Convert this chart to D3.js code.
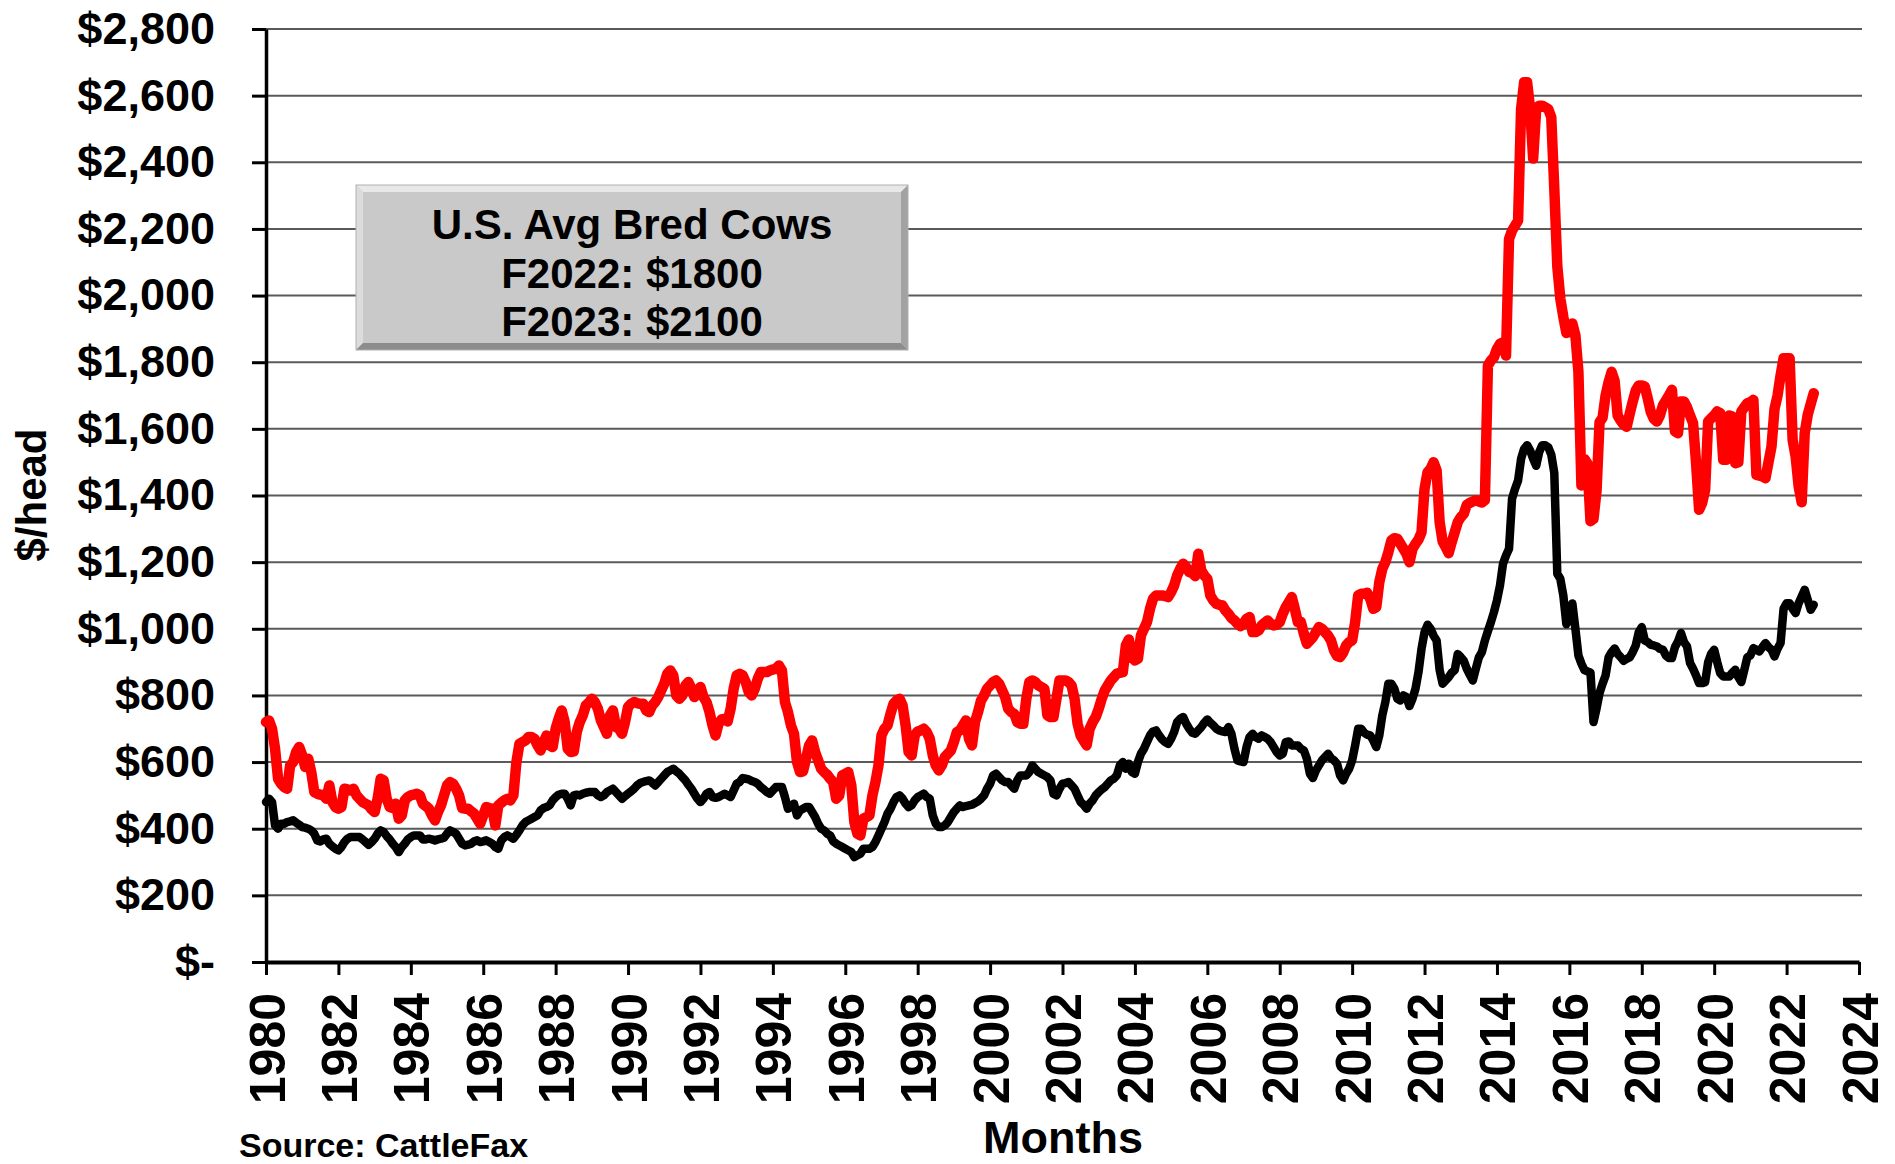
<!DOCTYPE html>
<html>
<head>
<meta charset="utf-8">
<script src="https://cdn.jsdelivr.net/npm/d3@7"></script>
<style>
  html, body { margin: 0; padding: 0; background: #fff; }
  svg { display: block; }
  text { font-family: "Liberation Sans", Arial, Helvetica, sans-serif; font-weight: bold; fill: #000; }
</style>
</head>
<body>
<svg id="chart" width="1895" height="1164"></svg>
<script>
// Monthly series, January 1980 onward ($/head)
const startYear = 1980;

const redSeries = [
  720, 725, 700, 640, 550, 535, 525, 520, 590, 600, 630, 645,      // 1980
  620, 585, 610, 570, 510, 505, 502, 500, 490, 530, 480, 465,      // 1981
  460, 465, 520, 518, 515, 520, 500, 490, 480, 475, 470, 458,      // 1982
  450, 490, 550, 545, 490, 465, 462, 475, 430, 440, 485, 495,      // 1983
  500, 502, 505, 500, 475, 468, 460, 440, 425, 450, 470, 500,      // 1984
  530, 540, 535, 520, 500, 462, 460, 460, 452, 445, 430, 415,      // 1985
  440, 465, 462, 460, 410, 470, 478, 485, 490, 485, 500, 600,      // 1986
  655, 660, 665, 675, 675, 670, 650, 635, 660, 680, 650, 645,      // 1987
  700, 730, 755, 720, 640, 630, 632, 690, 720, 740, 770, 778,      // 1988
  790, 780, 760, 725, 705, 685, 740, 755, 705, 700, 685, 720,      // 1989
  765, 775, 780, 777, 775, 775, 755, 750, 770, 780, 795, 815,      // 1990
  835, 865, 875, 860, 800, 790, 800, 830, 840, 820, 795, 815,      // 1991
  825, 795, 780, 750, 710, 680, 715, 728, 730, 722, 760, 820,      // 1992
  860, 865, 860, 840, 810, 800, 820, 850, 870, 870, 870, 875,      // 1993
  878, 880, 890, 875, 780, 750, 710, 685, 600, 570, 572, 610,      // 1994
  650, 665, 630, 605, 580, 570, 562, 550, 540, 490, 500, 560,      // 1995
  565, 570, 530, 420, 385, 380, 430, 435, 440, 500, 540, 590,      // 1996
  680, 700, 710, 745, 775, 785, 790, 770, 710, 630, 620, 680,      // 1997
  692, 695, 700, 690, 670, 620, 590, 575, 590, 615, 625, 635,      // 1998
  660, 690, 695, 710, 725, 670, 650, 720, 750, 785, 800, 820,      // 1999
  830, 840, 845, 835, 815, 795, 760, 750, 745, 720, 715, 715,      // 2000
  790, 840, 845, 840, 830, 825, 820, 740, 735, 735, 790, 845,      // 2001
  845, 845, 840, 830, 790, 715, 680, 665, 650, 700, 720, 735,      // 2002
  760, 790, 815, 830, 845, 855, 865, 868, 870, 950, 968, 915,      // 2003
  905, 910, 980, 1000, 1020, 1060, 1090, 1100, 1100, 1100, 1098, 1095,   // 2004
  1110, 1130, 1160, 1180, 1195, 1185, 1170, 1167, 1158, 1225, 1175, 1160, // 2005
  1150, 1100, 1085, 1075, 1072, 1070, 1055, 1045, 1032, 1025, 1015, 1008, // 2006
  1015, 1030, 1035, 990, 990, 995, 1010, 1018, 1025, 1015, 1010, 1012,   // 2007
  1020, 1045, 1065, 1080, 1095, 1060, 1020, 1020, 985, 955, 965, 975,    // 2008
  990, 1005, 1000, 990, 980, 965, 935, 918, 915, 928, 950, 960,          // 2009
  965, 1020, 1100, 1105, 1105, 1108, 1090, 1060, 1065, 1140, 1180, 1200, // 2010
  1230, 1265, 1272, 1270, 1255, 1240, 1225, 1200, 1240, 1255, 1268, 1290, // 2011
  1420, 1470, 1480, 1500, 1475, 1320, 1262, 1245, 1227, 1260, 1290, 1320, // 2012
  1335, 1345, 1372, 1378, 1382, 1386, 1382, 1379, 1386, 1790, 1805, 1815, // 2013
  1840, 1855, 1860, 1820, 2170, 2195, 2210, 2225, 2560, 2640, 2640, 2560, // 2014
  2411, 2560, 2570, 2570, 2565, 2560, 2535, 2322, 2088, 1991, 1936, 1888, // 2015
  1890, 1916, 1881, 1771, 1430, 1510, 1496, 1323, 1330, 1413, 1620, 1633, // 2016
  1700, 1740, 1771, 1744, 1640, 1625, 1613, 1606, 1645, 1682, 1715, 1730, // 2017
  1730, 1727, 1690, 1650, 1630, 1622, 1640, 1670, 1685, 1700, 1717, 1592, // 2018
  1587, 1682, 1682, 1665, 1640, 1617, 1497, 1357, 1377, 1417, 1622, 1632, // 2019
  1640, 1652, 1647, 1507, 1507, 1640, 1637, 1497, 1500, 1652, 1665, 1677, // 2020
  1680, 1687, 1462, 1460, 1457, 1452, 1500, 1547, 1660, 1700, 1760, 1812, // 2021
  1812, 1812, 1567, 1517, 1427, 1380, 1587, 1642, 1675, 1707              // 2022
];

const blackSeries = [
  480, 490, 480, 410, 400, 415, 415, 420, 422, 425, 418, 412,      // 1980
  405, 403, 400, 395, 385, 365, 362, 368, 370, 355, 347, 340,      // 1981
  335, 345, 360, 370, 375, 375, 375, 375, 368, 360, 352, 360,      // 1982
  370, 385, 395, 390, 378, 368, 355, 345, 330, 345, 355, 368,      // 1983
  375, 380, 380, 380, 368, 368, 370, 368, 365, 368, 370, 373,      // 1984
  385, 395, 390, 385, 370, 355, 350, 352, 355, 362, 365, 360,      // 1985
  362, 365, 360, 355, 345, 340, 365, 375, 380, 375, 370, 382,      // 1986
  395, 410, 420, 425, 430, 435, 440, 455, 462, 465, 470, 485,      // 1987
  495, 502, 505, 505, 490, 470, 500, 502, 500, 505, 508, 510,      // 1988
  510, 510, 500, 495, 500, 510, 515, 520, 510, 500, 490, 498,      // 1989
  505, 512, 520, 530, 537, 540, 543, 545, 538, 530, 540, 550,      // 1990
  560, 570, 575, 580, 572, 565, 555, 545, 532, 520, 505, 490,      // 1991
  480, 490, 505, 510, 495, 493, 495, 500, 505, 500, 495, 515,      // 1992
  535, 540, 552, 550, 548, 543, 540, 535, 525, 518, 510, 505,      // 1993
  515, 525, 525, 525, 495, 460, 468, 475, 440, 455, 460, 465,      // 1994
  465, 450, 435, 415, 400, 395, 385, 380, 362, 355, 350, 345,      // 1995
  340, 335, 330, 315, 320, 325, 340, 340, 340, 345, 360, 380,      // 1996
  400, 420, 445, 460, 480, 495, 500, 490, 475, 465, 470, 485,      // 1997
  495, 500, 505, 495, 490, 440, 415, 405, 405, 410, 420, 435,      // 1998
  450, 460, 470, 465, 468, 470, 472, 477, 482, 490, 500, 520,      // 1999
  535, 560, 565, 555, 545, 540, 540, 530, 520, 545, 560, 560,      // 2000
  560, 570, 590, 580, 570, 565, 560, 555, 545, 505, 500, 520,      // 2001
  535, 537, 540, 530, 520, 500, 480, 472, 460, 475, 485, 500,      // 2002
  510, 518, 525, 535, 545, 550, 560, 590, 600, 580, 595, 570,      // 2003
  565, 600, 625, 640, 660, 680, 692, 695, 680, 668, 660, 655,      // 2004
  670, 690, 720, 730, 735, 715, 700, 688, 685, 695, 705, 718,      // 2005
  728, 718, 710, 700, 695, 692, 690, 705, 685, 640, 605, 602,      // 2006
  600, 645, 675, 685, 675, 670, 680, 675, 670, 660, 645, 630,      // 2007
  620, 625, 660, 662, 650, 650, 650, 640, 635, 610, 565, 552,      // 2008
  575, 590, 605, 615, 625, 612, 605, 595, 560, 545, 565, 580,      // 2009
  605, 650, 700, 700, 688, 682, 680, 665, 645, 680, 740, 780,      // 2010
  835, 835, 820, 790, 785, 800, 795, 768, 790, 820, 870, 940,      // 2011
  990, 1012, 1000, 979, 965, 876, 835, 845, 855, 868, 876, 924,    // 2012
  915, 904, 880, 862, 845, 880, 914, 930, 965, 993, 1020, 1050,    // 2013
  1085, 1130, 1195, 1220, 1240, 1390, 1420, 1445, 1510, 1540, 1551, 1535, // 2014
  1510, 1489, 1530, 1551, 1551, 1545, 1523, 1468, 1165, 1150, 1100, 1014, // 2015
  1041, 1076, 1000, 920, 895, 876, 872, 869, 720, 760, 807, 835,   // 2016
  860, 914, 930, 941, 925, 915, 904, 910, 914, 930, 950, 990,      // 2017
  1005, 965, 960, 952, 950, 947, 940, 937, 920, 912, 912, 945,     // 2018
  962, 987, 960, 947, 897, 880, 860, 837, 837, 840, 900, 925,      // 2019
  937, 900, 867, 857, 857, 857, 868, 877, 855, 840, 877, 915,      // 2020
  920, 942, 937, 932, 945, 957, 945, 937, 917, 940, 957, 1060,     // 2021
  1077, 1077, 1060, 1047, 1077, 1097, 1117, 1087, 1057, 1072       // 2022
];

const yTickValues = d3.range(0, 2801, 200);
const xTickValues = d3.range(1980, 2025, 2);
const noteLines = ["U.S. Avg Bred Cows", "F2022: $1800", "F2023: $2100"];
const yAxisTitle = "$/head";
const xAxisTitle = "Months";
const sourceNote = "Source: CattleFax";

const svg = d3.select("#chart");

const x = d3.scaleLinear().domain([1980, 2024]).range([266, 1859]);
const y = d3.scaleLinear().domain([0, 2800]).range([962, 29]);

// horizontal gridlines
svg.append("g")
  .selectAll("line")
  .data(yTickValues.filter(v => v > 0))
  .join("line")
  .attr("x1", x(1980)).attr("x2", 1862)
  .attr("y1", d => y(d)).attr("y2", d => y(d))
  .attr("stroke", "#5a5a5a")
  .attr("stroke-width", 2);

// y axis
const yAxis = svg.append("g")
  .attr("transform", `translate(${x(1980)},0)`)
  .call(d3.axisLeft(y)
    .tickValues(yTickValues)
    .tickSize(14)
    .tickSizeOuter(0)
    .tickPadding(37)
    .tickFormat(v => v === 0 ? "$-" : "$" + d3.format(",")(v)));
yAxis.select(".domain").attr("stroke", "#000").attr("stroke-width", 3.5);
yAxis.selectAll(".tick line").attr("stroke", "#000").attr("stroke-width", 3);
yAxis.selectAll(".tick text")
  .style("font-family", '"Liberation Sans", Arial, sans-serif')
  .style("font-weight", "bold")
  .style("font-size", "45px")
  .attr("fill", "#000");

// x axis
const xAxis = svg.append("g")
  .attr("transform", `translate(0,${y(0)})`)
  .call(d3.axisBottom(x)
    .tickValues(xTickValues)
    .tickSize(13)
    .tickSizeOuter(0)
    .tickFormat(d3.format("d")));
xAxis.select(".domain").attr("stroke", "#000").attr("stroke-width", 4);
xAxis.selectAll(".tick line").attr("stroke", "#000").attr("stroke-width", 3);
xAxis.selectAll(".tick text")
  .attr("transform", "rotate(-90)")
  .attr("text-anchor", "end")
  .attr("x", -31)
  .attr("y", 0)
  .attr("dy", "0.36em")
  .style("font-family", '"Liberation Sans", Arial, sans-serif')
  .style("font-weight", "bold")
  .style("font-size", "50px")
  .attr("fill", "#000");

// price lines
const line = d3.line()
  .x((d, i) => x(startYear + i / 12))
  .y(d => y(d));

svg.append("path")
  .datum(blackSeries)
  .attr("d", line)
  .attr("fill", "none")
  .attr("stroke", "#000")
  .attr("stroke-width", 8.5)
  .attr("stroke-linejoin", "round")
  .attr("stroke-linecap", "round");

svg.append("path")
  .datum(redSeries)
  .attr("d", line)
  .attr("fill", "none")
  .attr("stroke", "#ff0000")
  .attr("stroke-width", 10.5)
  .attr("stroke-linejoin", "round")
  .attr("stroke-linecap", "round");

// bevelled note box
const bx0 = 356, by0 = 185, bx1 = 908, by1 = 350, bev = 7;
const box = svg.append("g");
box.append("rect")
  .attr("x", bx0).attr("y", by0)
  .attr("width", bx1 - bx0).attr("height", by1 - by0)
  .attr("fill", "#c9c9c9");
const facets = [
  { pts: [[bx0, by0], [bx1, by0], [bx1 - bev, by0 + bev], [bx0 + bev, by0 + bev]], fill: "#e8e8e8" },
  { pts: [[bx0, by0], [bx0 + bev, by0 + bev], [bx0 + bev, by1 - bev], [bx0, by1]], fill: "#dcdcdc" },
  { pts: [[bx0, by1], [bx0 + bev, by1 - bev], [bx1 - bev, by1 - bev], [bx1, by1]], fill: "#8c8c8c" },
  { pts: [[bx1, by0], [bx1, by1], [bx1 - bev, by1 - bev], [bx1 - bev, by0 + bev]], fill: "#a2a2a2" }
];
box.selectAll("polygon")
  .data(facets)
  .join("polygon")
  .attr("points", d => d.pts.map(p => p.join(",")).join(" "))
  .attr("fill", d => d.fill);
box.append("rect")
  .attr("x", bx0).attr("y", by0)
  .attr("width", bx1 - bx0).attr("height", by1 - by0)
  .attr("fill", "none")
  .attr("stroke", "#b0b0b0")
  .attr("stroke-width", 1);
box.selectAll("text.note")
  .data(noteLines)
  .join("text")
  .attr("class", "note")
  .attr("x", (bx0 + bx1) / 2)
  .attr("y", (d, i) => 239 + i * 48.5)
  .attr("text-anchor", "middle")
  .style("font-size", "42px")
  .text(d => d);

// axis titles and source
svg.append("text")
  .attr("transform", "translate(31,495) rotate(-90)")
  .attr("text-anchor", "middle")
  .attr("dy", "0.35em")
  .style("font-size", "42px")
  .text(yAxisTitle);

svg.append("text")
  .attr("x", 1063)
  .attr("y", 1153)
  .attr("text-anchor", "middle")
  .style("font-size", "45px")
  .text(xAxisTitle);

svg.append("text")
  .attr("x", 239)
  .attr("y", 1157)
  .style("font-size", "34px")
  .text(sourceNote);
</script>
</body>
</html>
